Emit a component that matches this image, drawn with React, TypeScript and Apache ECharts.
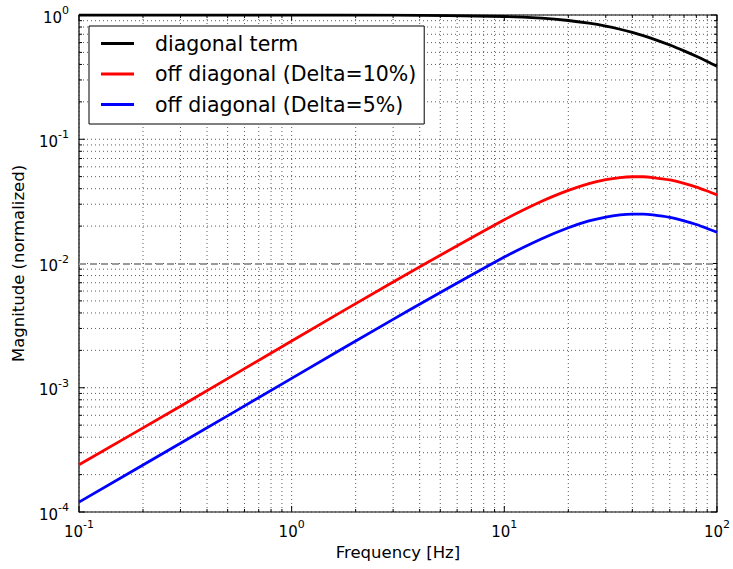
import React, { useEffect, useRef } from "react";
import * as echarts from "echarts";

// ---- data ----
const freq = [0.1, 0.3, 1, 3, 10, 15, 20, 25, 30, 35, 40, 45, 50, 60, 70, 80, 90, 100];
const diagonalTerm = [1.0, 1.0, 1.0, 0.997, 0.973, 0.942, 0.903, 0.859, 0.814, 0.768, 0.724, 0.682, 0.643, 0.573, 0.514, 0.465, 0.423, 0.387];
const offDiag10 = [0.00024, 0.00071, 0.00238, 0.0071, 0.0225, 0.0317, 0.0388, 0.044, 0.0473, 0.0492, 0.0499, 0.0499, 0.0492, 0.047, 0.0441, 0.0412, 0.0383, 0.0357];
const offDiag5 = [0.00012, 0.000357, 0.00119, 0.00355, 0.01126, 0.01583, 0.0194, 0.022, 0.02365, 0.0246, 0.02495, 0.02495, 0.0246, 0.0235, 0.02205, 0.0206, 0.01915, 0.01785];
const refLevel = [0.01];

const seriesNames = ["diagonal term", "off diagonal (Delta=10%)", "off diagonal (Delta=5%)"];
const seriesColors = ["#000000", "#ff0000", "#0000ff"];

const xDecades = [0.1, 1, 10, 100];
const yDecades = [0.0001, 0.001, 0.01, 0.1, 1];
const minorMultipliers = [2, 3, 4, 5, 6, 7, 8, 9];

const X_MIN = 0.1, X_MAX = 100, Y_MIN = 0.0001, Y_MAX = 1;
const FONT = "DejaVu Sans";

function buildTicks(decades: number[]) {
  const out: { v: number; major: number }[] = [];
  decades.forEach((d, i) => {
    out.push({ v: d, major: 1 });
    if (i < decades.length - 1) minorMultipliers.forEach((m) => out.push({ v: +(d * m).toPrecision(6), major: 0 }));
  });
  return out;
}

export default function App() {
  const ref = useRef<HTMLDivElement>(null);
  useEffect(() => {
    if (!ref.current) return;
    const chart = echarts.init(ref.current, null, { renderer: "svg" });

    const gridData: number[][] = [];
    buildTicks(xDecades).forEach((t) => gridData.push([t.v, Y_MIN, 0, t.major]));
    buildTicks(yDecades).forEach((t) => gridData.push([X_MIN, t.v, 1, t.major]));

    const labelFmt = (val: number) => {
      const e = Math.round(Math.log10(val));
      return `{b|10}{s|${e}}`;
    };
    const rich = {
      b: { fontSize: 15, fontFamily: FONT, color: "#000", lineHeight: 20, verticalAlign: "bottom" },
      s: { fontSize: 11, fontFamily: FONT, color: "#000", lineHeight: 12, verticalAlign: "top" },
    };

    const lines = [diagonalTerm, offDiag10, offDiag5].map((vals, i) => ({
      name: seriesNames[i],
      type: "line",
      data: freq.map((f, j) => [f, vals[j]]),
      showSymbol: false,
      symbol: "none",
      smooth: 0.3,
      z: 5,
      lineStyle: { color: seriesColors[i], width: 2.8 },
      itemStyle: { color: seriesColors[i] },
      markLine:
        i === 2
          ? {
              silent: true,
              symbol: "none",
              label: { show: false },
              lineStyle: { color: "#9a9a9a", type: [7, 4], width: 2 },
              data: refLevel.map((v) => ({ yAxis: v })),
            }
          : undefined,
    }));

    chart.setOption({
      animation: false,
      backgroundColor: "#fff",
      grid: { left: 79, right: 12, top: 15, bottom: 57, show: true, borderColor: "#000", borderWidth: 1.2, backgroundColor: "transparent" },
      xAxis: {
        type: "log",
        logBase: 10,
        min: X_MIN,
        max: X_MAX,
        name: "Frequency [Hz]",
        nameLocation: "middle",
        nameGap: 31,
        nameTextStyle: { fontSize: 16.5, fontFamily: FONT, color: "#000" },
        axisLine: { show: false },
        axisTick: { show: false },
        splitLine: { show: false },
        axisLabel: { margin: 7, formatter: labelFmt, rich },
      },
      yAxis: {
        type: "log",
        logBase: 10,
        min: Y_MIN,
        max: Y_MAX,
        name: "Magnitude (normalized)",
        nameLocation: "middle",
        nameGap: 52,
        nameTextStyle: { fontSize: 16.5, fontFamily: FONT, color: "#000" },
        axisLine: { show: false },
        axisTick: { show: false },
        splitLine: { show: false },
        axisLabel: { margin: 10, formatter: labelFmt, rich },
      },
      legend: {
        data: seriesNames,
        orient: "vertical",
        left: 89,
        top: 26,
        backgroundColor: "#fff",
        borderColor: "#000",
        borderWidth: 1,
        borderRadius: 0,
        padding: [7, 8, 9, 12],
        itemWidth: 33,
        itemHeight: 3,
        itemGap: 9.5,
        icon: "rect",
        textStyle: { fontSize: 20.5, fontFamily: FONT, color: "#000", lineHeight: 20, padding: [0, 0, 0, 16] },
      },
      series: [
        {
          type: "custom",
          silent: true,
          clip: false,
          z: 1,
          encode: { x: 0, y: 1 },
          data: gridData,
          renderItem: (params: any, api: any) => {
            const kind = api.value(2);
            const major = api.value(3);
            const len = major ? 6 : 3;
            const tickStyle = { stroke: "#000", lineWidth: 1 };
            const gridStyle = { stroke: "#333", lineWidth: 0.8, lineDash: [1, 3] };
            if (kind === 0) {
              const v = api.value(0);
              const b = api.coord([v, Y_MIN]);
              const t = api.coord([v, Y_MAX]);
              return {
                type: "group",
                children: [
                  { type: "line", shape: { x1: b[0], y1: b[1], x2: t[0], y2: t[1] }, style: gridStyle },
                  { type: "line", shape: { x1: b[0], y1: b[1], x2: b[0], y2: b[1] - len }, style: tickStyle },
                  { type: "line", shape: { x1: t[0], y1: t[1], x2: t[0], y2: t[1] + len }, style: tickStyle },
                ],
              };
            }
            const v = api.value(1);
            const l = api.coord([X_MIN, v]);
            const r = api.coord([X_MAX, v]);
            return {
              type: "group",
              children: [
                { type: "line", shape: { x1: l[0], y1: l[1], x2: r[0], y2: r[1] }, style: gridStyle },
                { type: "line", shape: { x1: l[0], y1: l[1], x2: l[0] + len, y2: l[1] }, style: tickStyle },
                { type: "line", shape: { x1: r[0], y1: r[1], x2: r[0] - len, y2: r[1] }, style: tickStyle },
              ],
            };
          },
        },
        ...lines,
      ],
    });
    return () => chart.dispose();
  }, []);
  return <div ref={ref} style={{ position: "fixed", left: 0, top: 0, width: 733, height: 569 }} />;
}
